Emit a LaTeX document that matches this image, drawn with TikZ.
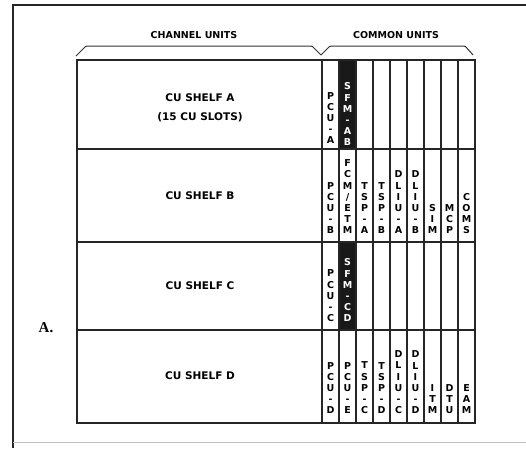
\documentclass[tikz,border=0pt]{standalone}
\usepackage{fontspec}
\newfontfamily\labelfont{DejaVu Sans}
\newfontfamily\tagfont{Liberation Serif}
\usetikzlibrary{positioning}

\begin{document}
\begin{tikzpicture}[x=1pt, y=-1pt,
        frame/.style={line width=1.8pt, draw=black!85},
        rack/.style={line width=1.1pt, draw=black!85},
        brace/.style={line width=1pt, draw=black!80, rounded corners=1pt},
        hdr/.style={font=\labelfont\bfseries\fontsize{9.5}{11}\selectfont, inner sep=0pt},
        shelf/.style={font=\labelfont\bfseries\fontsize{10.5}{19}\selectfont, align=center, inner sep=0pt},
        unit/.style={font=\labelfont\bfseries\fontsize{9.5}{11.2}\selectfont, align=center, inner sep=0pt, anchor=south},
        inv/.style={unit, text=white}
    ]
    \useasboundingbox (0,0) rectangle (526,448);

    % Outer frame
    \draw[frame] (13,448) -- (13,5) -- (526,5);
    \draw[line width=0.8pt, draw=black!25] (13,442) -- (526,442);

    % Headings and braces
    \node[hdr] (chan) at (194,35) {CHANNEL UNITS};
    \node[hdr] (comm) at (396,35) {COMMON UNITS};
    \draw[brace] (76,56) -- (86,46) -- (312,46) -- (321,55);
    \draw[brace] (321,55) -- (330,46) -- (465,46) -- (473,55);

    % Black slots
    \fill[black!90] (339,60) rectangle (356,149);
    \fill[black!90] (339,242) rectangle (356,330);

    % Shelf grid
    \draw[rack] (77,60) rectangle (475,423);
    \foreach \y in {149,242,330}
        \draw[rack] (77,\y) -- (475,\y);
    \foreach \x in {322,339,356,373,390,407,424,441,458}
        \draw[rack] (\x,60) -- (\x,423);

    % Channel unit shelves
    \node[shelf] (shelfA) at (200,108) {CU SHELF A\\(15 CU SLOTS)};
    \node[shelf] (shelfB) at (200,196) {CU SHELF B};
    \node[shelf] (shelfC) at (200,286) {CU SHELF C};
    \node[shelf] (shelfD) at (200,376) {CU SHELF D};

    % Common units, shelf A
    \node[unit] (pcuA) at (330.5,144) {P\\C\\U\\-\\A};
    \node[inv] (sfmAB) at (347.5,146) {S\\F\\M\\-\\A\\B};

    % Common units, shelf B
    \node[unit] (pcuB) at (330.5,234) {P\\C\\U\\-\\B};
    \node[unit] (fcm) at (347.5,234) {F\\C\\M\\/\\E\\T\\M};
    \node[unit] (tspA) at (364.5,234) {T\\S\\P\\-\\A};
    \node[unit] (tspB) at (381.5,234) {T\\S\\P\\-\\B};
    \node[unit] (dliuA) at (398.5,234) {D\\L\\I\\U\\-\\A};
    \node[unit] (dliuB) at (415.5,234) {D\\L\\I\\U\\-\\B};
    \node[unit] (sim) at (432.5,234) {S\\I\\M};
    \node[unit] (mcp) at (449.5,234) {M\\C\\P};
    \node[unit] (coms) at (466.5,234) {C\\O\\M\\S};

    % Common units, shelf C
    \node[unit] (pcuC) at (330.5,322) {P\\C\\U\\-\\C};
    \node[inv] (sfmCD) at (347.5,322) {S\\F\\M\\-\\C\\D};

    % Common units, shelf D
    \node[unit] (pcuD) at (330.5,414) {P\\C\\U\\-\\D};
    \node[unit] (pcuE) at (347.5,414) {P\\C\\U\\-\\E};
    \node[unit] (tspC) at (364.5,414) {T\\S\\P\\-\\C};
    \node[unit] (tspD) at (381.5,414) {T\\S\\P\\-\\D};
    \node[unit] (dliuC) at (398.5,414) {D\\L\\I\\U\\-\\C};
    \node[unit] (dliuD) at (415.5,414) {D\\L\\I\\U\\-\\D};
    \node[unit] (itm) at (432.5,414) {I\\T\\M};
    \node[unit] (dtu) at (449.5,414) {D\\T\\U};
    \node[unit] (eam) at (466.5,414) {E\\A\\M};

    \node[font=\tagfont\bfseries\fontsize{15}{15}\selectfont, inner sep=0pt] (tagA) at (46,328) {A.};
\end{tikzpicture}
\end{document}
